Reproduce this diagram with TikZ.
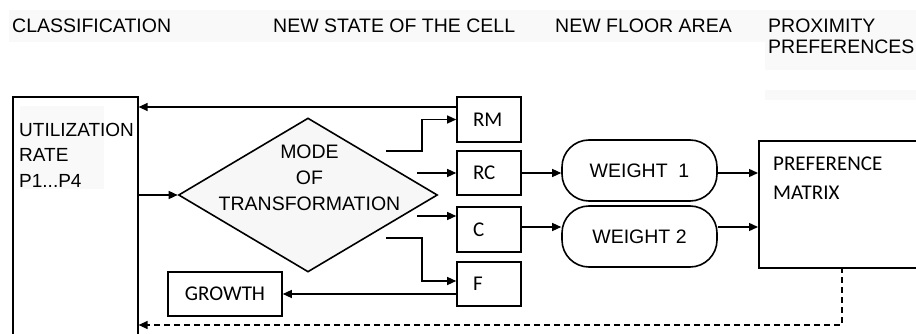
\documentclass[tikz,border=0pt]{standalone}
\usepackage{fontspec}
\setmainfont{Liberation Sans}
\newfontfamily\calfont{Carlito}
\usetikzlibrary{shapes.geometric,arrows.meta,calc}
\tikzset{
  arr/.style={line width=1.3pt,-{Triangle[length=9pt,width=8pt]}},
  hdr/.style={font=\fontsize{19.5}{21}\selectfont,inner sep=0,anchor=base west},
  arial/.style={font=\fontsize{19}{25.5}\selectfont},
  cal/.style={font=\calfont\fontsize{21}{29}\selectfont},
  smallbox/.style={draw,line width=1.6pt,cal,minimum width=64pt,minimum height=45pt,inner sep=0,text width=32pt,align=left},
  pill/.style={draw,line width=1.6pt,rounded corners=27pt,minimum width=155pt,minimum height=61pt,inner sep=0,font=\fontsize{19.5}{21}\selectfont},
  faint/.style={fill=black!2.5,draw=none}
}
\begin{document}
\begin{tikzpicture}[x=1pt,y=-1pt]
\clip (0,0) rectangle (916,334);
\fill[white] (0,0) rectangle (916,334);
% faint background bands
\path[faint] (9,10) rectangle (916,42);
\path[faint] (765,42) rectangle (916,70);
\path[faint] (765,90) rectangle (916,100);
\path[faint] (20,106) rectangle (104,189);
% headers
\node[hdr] (h1) at (12,33) {CLASSIFICATION};
\node[hdr] (h2) at (273,33) {NEW STATE OF THE CELL};
\node[hdr] (h3) at (555,33) {NEW FLOOR AREA};
\node[hdr] (h4) at (768,33) {PROXIMITY};
\node[hdr] (h5) at (768,54) {PREFERENCES};
% left box
\node[draw,line width=1.6pt,minimum width=125pt,minimum height=260pt,anchor=north west,inner sep=0] (util) at (12,96) {};
\node[arial,anchor=north west,inner sep=0,align=left] (utiltext) at (19,123) {UTILIZATION\\RATE\\P1...P4};
% diamond
\node[diamond,draw,line width=1.6pt,fill=black!3,minimum width=259pt,minimum height=154pt,inner sep=0] (dia) at (308,195) {};
\node[font=\fontsize{19.5}{26}\selectfont,align=center,inner sep=0] (diatext) at (309.5,178) {MODE\\OF\\TRANSFORMATION};
% state boxes
\node[smallbox] (rm) at (489,119.5) {RM};
\node[smallbox,minimum height=44pt] (rc) at (489,173) {RC};
\node[smallbox] (c) at (489,229.5) {C};
\node[smallbox,minimum height=44pt] (f) at (489,284) {F};
\node[draw,line width=1.6pt,cal,minimum width=114pt,minimum height=44pt,inner sep=0] (growth) at (225,294) {GROWTH};
% weights
\node[pill] (w1) at (639.5,170.5) {WEIGHT\ \ 1};
\node[pill] (w2) at (639.5,236.5) {WEIGHT 2};
% preference matrix
\node[draw,line width=1.6pt,minimum width=172pt,minimum height=127pt,anchor=north west,inner sep=0] (pm) at (758,140) {};
\node[cal,anchor=north west,inner sep=0,align=left] (pmtext) at (773,157) {PREFERENCE\\MATRIX};
% coordinates
\coordinate (topy) at (0,107);
\coordinate (rmS) at (386,151);
\coordinate (rcS) at (417,173);
\coordinate (cS) at (417,216);
\coordinate (fS) at (386,238);
\coordinate (dashy) at (0,325);
\coordinate (pmS) at (842,267);
% connectors
\draw[arr] (rm.west |- topy) -- (util.east |- topy);
\draw[arr] (util.east |- dia.west) -- (dia.west);
\draw[arr] (rmS) -- ++(36,0) |- (rm.west);
\draw[arr] (rcS) -- (rcS -| rc.west);
\draw[arr] (cS) -- (cS -| c.west);
\draw[arr] (fS) -- ++(36,0) |- ($(f.west)+(0,-3)$);
\draw[arr] (f.west |- growth.east) -- (growth.east);
\draw[arr] (rc.east) -- (rc.east -| w1.west);
\draw[arr] ($(c.east)+(0,-2.5)$) -- ($(c.east -| w2.west)+(0,-2.5)$);
\draw[arr] (rc.east -| w1.east) -- (rc.east -| pm.west);
\draw[arr] ($(c.east -| w2.east)+(0,-2.5)$) -- ($(c.east -| pm.west)+(0,-2.5)$);
\draw[arr,dashed,dash pattern=on 6pt off 4pt] (pmS) |- (util.east |- dashy);
\end{tikzpicture}
\end{document}
